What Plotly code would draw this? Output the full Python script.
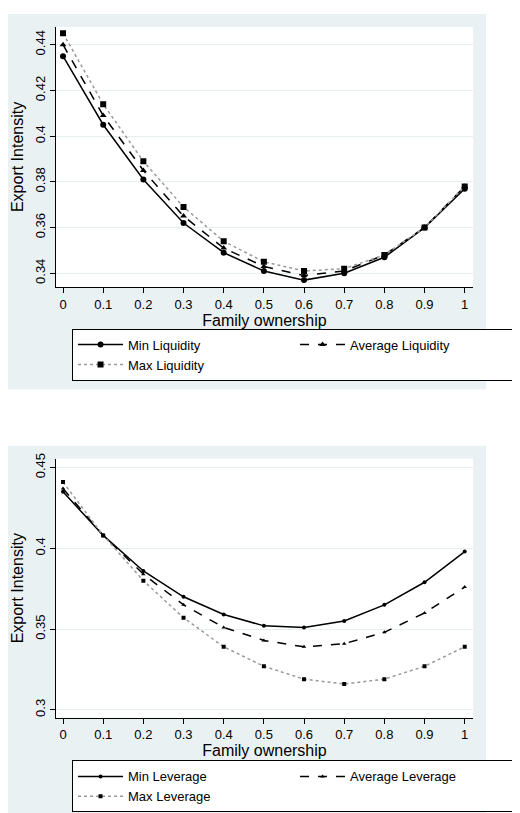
import plotly.graph_objects as go

x_vals = [0, 0.1, 0.2, 0.3, 0.4, 0.5, 0.6, 0.7, 0.8, 0.9, 1]

min_liq = [0.435, 0.405, 0.381, 0.362, 0.349, 0.341, 0.337, 0.340, 0.347, 0.360, 0.377]
avg_liq = [0.440, 0.409, 0.385, 0.365, 0.351, 0.343, 0.339, 0.341, 0.348, 0.360, 0.378]
max_liq = [0.445, 0.414, 0.389, 0.369, 0.354, 0.345, 0.341, 0.342, 0.348, 0.360, 0.378]

min_lev = [0.435, 0.408, 0.386, 0.370, 0.359, 0.352, 0.351, 0.355, 0.365, 0.379, 0.398]
avg_lev = [0.437, 0.408, 0.384, 0.365, 0.351, 0.343, 0.339, 0.341, 0.348, 0.360, 0.376]
max_lev = [0.441, 0.408, 0.380, 0.357, 0.339, 0.327, 0.319, 0.316, 0.319, 0.327, 0.339]

W, H = 520, 813
bg = '#EAF1F3'

def py(p):
    return 1 - p / H

fig = go.Figure()

styles = [
    ('solid', 'black', 'circle'),
    ('dash', 'black', 'triangle-up'),
    ('dot', '#999999', 'square'),
]

def add_set(series, names, xa, ya, leg, msize):
    for s, n, (dash, col, sym) in zip(series, names, styles):
        fig.add_trace(go.Scatter(
            x=x_vals, y=s, name=n, mode='lines+markers',
            line=dict(color=col, width=1.5, dash=dash),
            marker=dict(symbol=sym, size=msize, color='black'),
            xaxis=xa, yaxis=ya, legend=leg
        ))

add_set([min_liq, avg_liq, max_liq], ['Min Liquidity', 'Average Liquidity', 'Max Liquidity'], 'x', 'y', 'legend', 6)
add_set([min_lev, avg_lev, max_lev], ['Min Leverage', 'Average Leverage', 'Max Leverage'], 'x2', 'y2', 'legend2', 4)

# gray panel backgrounds
for y0, y1 in [(0, 378), (435, 813)]:
    fig.add_shape(type='rect', xref='paper', yref='paper', x0=0, x1=1,
                  y0=py(y1), y1=py(y0), fillcolor=bg, line_width=0, layer='below')
# white plot areas
for y0, y1 in [(13, 275), (448, 709)]:
    fig.add_shape(type='rect', xref='paper', yref='paper', x0=52 / W, x1=506 / W,
                  y0=py(y1), y1=py(y0), fillcolor='white', line_width=0, layer='below')

xax = dict(range=[-0.018, 1.021], tickvals=x_vals, ticktext=['0'] + [str(v) for v in x_vals[1:-1]] + ['1'],
           showgrid=False, zeroline=False, showline=True, linecolor='black', linewidth=1,
           ticks='outside', ticklen=5, tickcolor='black', title=dict(text='Family ownership', standoff=0),
           domain=[52 / W, 506 / W])
yax = dict(showgrid=True, gridcolor='#E6EEF0', zeroline=False, showline=True, linecolor='black', linewidth=1,
           ticks='outside', ticklen=5, tickcolor='black', tickangle=-90,
           title=dict(text='Export Intensity', standoff=4))

leg_common = dict(orientation='h', x=75 / W, xanchor='left', yanchor='top',
                  bgcolor='white', bordercolor='black', borderwidth=1,
                  entrywidth=0.5, entrywidthmode='fraction', itemwidth=45,
                  font=dict(size=13), tracegroupgap=0)

fig.update_layout(
    width=W, height=H,
    margin=dict(l=0, r=0, t=0, b=0),
    paper_bgcolor='white', plot_bgcolor='rgba(0,0,0,0)',
    font=dict(family='Liberation Sans, Arial', size=13, color='black'),
    xaxis=dict(xax, anchor='y'),
    yaxis=dict(yax, domain=[py(275), py(13)], range=[0.334, 0.4478],
               tickvals=[0.34, 0.36, 0.38, 0.40, 0.42, 0.44],
               ticktext=['0.34', '0.36', '0.38', '0.4', '0.42', '0.44'], anchor='x'),
    xaxis2=dict(xax, anchor='y2'),
    yaxis2=dict(yax, domain=[py(709), py(448)], range=[0.2951, 0.4555],
                tickvals=[0.30, 0.35, 0.40, 0.45], ticktext=['0.3', '0.35', '0.4', '0.45'], anchor='x2'),
    legend=dict(leg_common, y=py(317)),
    legend2=dict(leg_common, y=py(752)),
)

fig.write_html('out.html')
